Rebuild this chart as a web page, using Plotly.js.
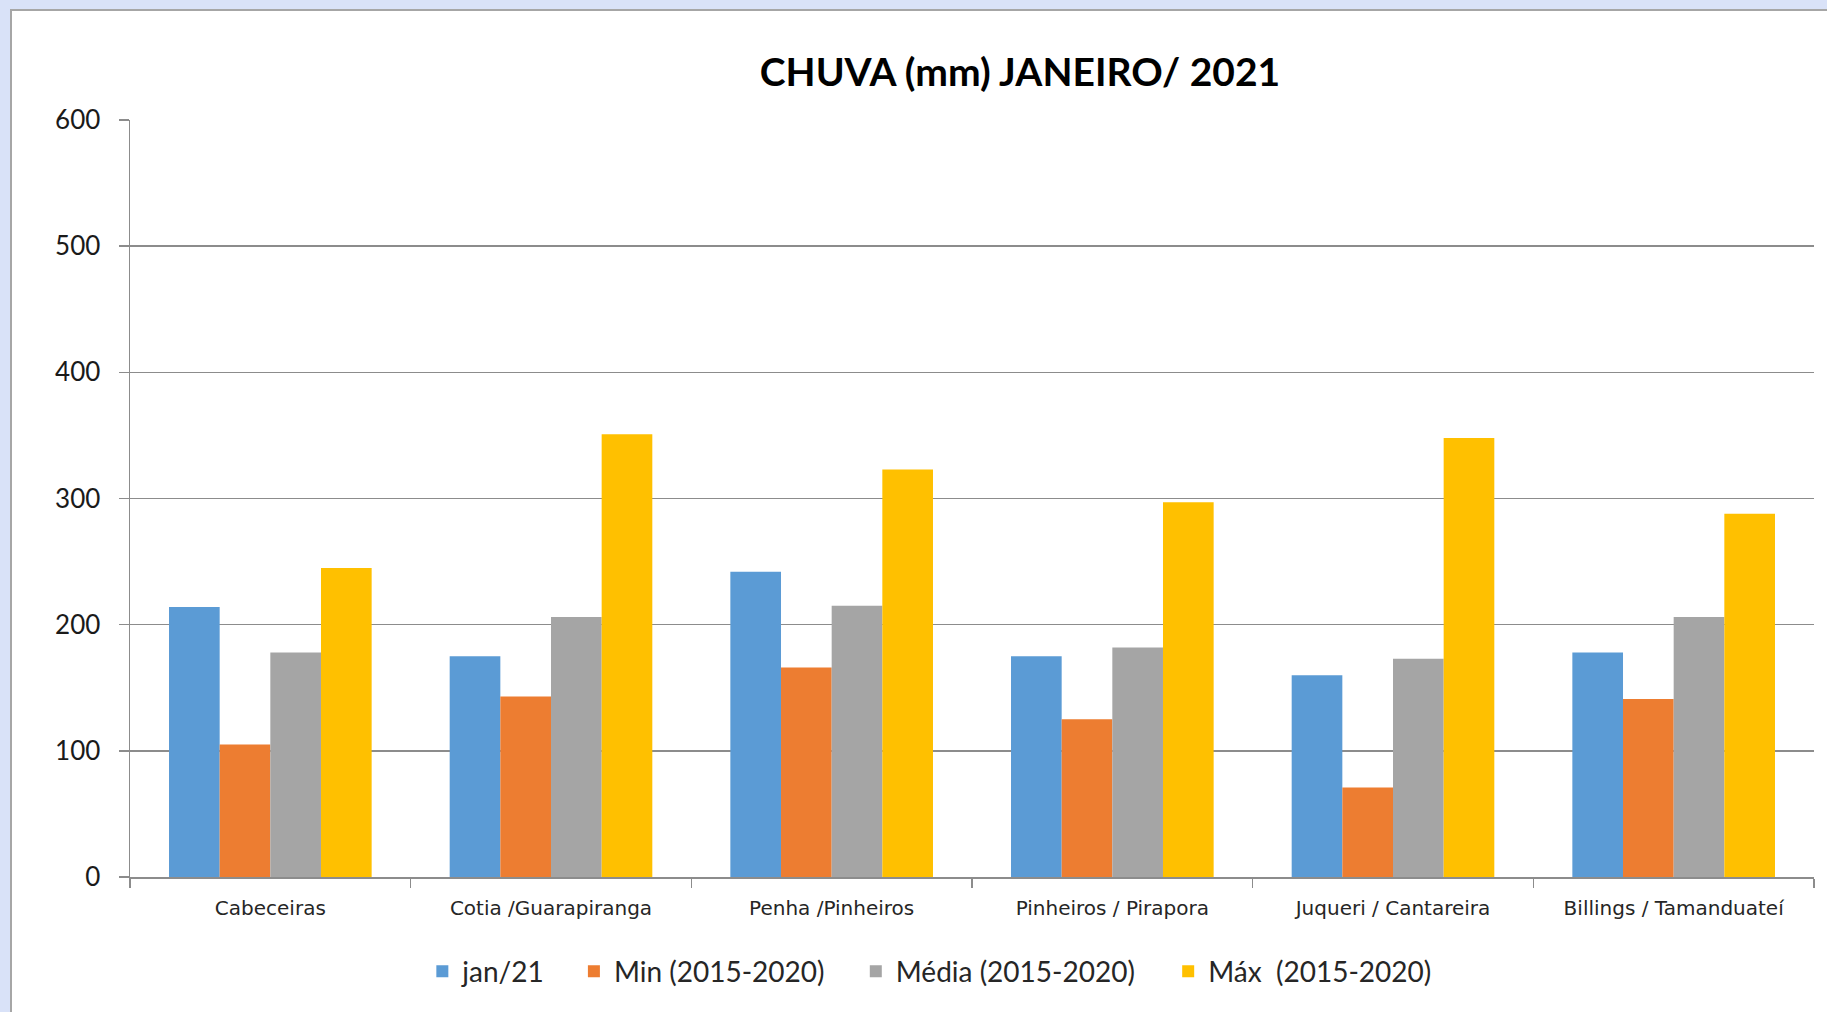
<!DOCTYPE html>
<html>
<head>
<meta charset="utf-8">
<script src="https://cdn.plot.ly/plotly-3.0.1.min.js"></script>
<style>
  html, body { margin: 0; padding: 0; width: 1827px; height: 1012px; overflow: hidden; background: #d9e2f8; }
  #panel { position: absolute; left: 10px; top: 9px; width: 1840px; height: 1040px; background: #ffffff; border: 2px solid #a6a6a6; box-sizing: border-box; }
  #chart { position: absolute; left: 0; top: 0; width: 1827px; height: 1012px; }
</style>
</head>
<body>
<div id="panel"></div>
<div id="chart"></div>
<script>
const categories = ["Cabeceiras", "Cotia /Guarapiranga", "Penha /Pinheiros", "Pinheiros / Pirapora", "Juqueri / Cantareira", "Billings / Tamanduateí"];
const seriesNames = ["jan/21", "Min (2015-2020)", "Média (2015-2020)", "Máx  (2015-2020)"];
const jan21 = [214, 175, 242, 175, 160, 178];
const min1520 = [105, 143, 166, 125, 71, 141];
const media1520 = [178, 206, 215, 182, 173, 206];
const max1520 = [245, 351, 323, 297, 348, 288];
const yTicks = [0, 100, 200, 300, 400, 500, 600];
const colors = ["#5b9bd5", "#ed7d31", "#a5a5a5", "#ffc000"];

const legendIds = ["legend", "legend2", "legend3", "legend4"];
const legendX = [0.1736, 0.2636, 0.4310, 0.6165];

const allValues = [jan21, min1520, media1520, max1520];
const traces = allValues.map((vals, i) => ({
  type: "bar",
  name: seriesNames[i],
  x: categories,
  y: vals,
  legend: legendIds[i],
  marker: { color: colors[i], line: { width: 0 } },
  hoverinfo: "x+y+name"
}));

const layout = {
  width: 1827,
  height: 1012,
  paper_bgcolor: "rgba(0,0,0,0)",
  plot_bgcolor: "rgba(0,0,0,0)",
  margin: { l: 130, r: 13, t: 120, b: 135 },
  barmode: "group",
  bargap: 0.278,
  bargroupgap: 0,
  title: {
    text: "<b>CHUVA (mm) JANEIRO/ 2021</b>",
    font: { family: "Lato, 'Open Sans', sans-serif", size: 39, color: "#000000" },
    x: 0.5285, xref: "paper", xanchor: "center",
    y: 0.929, yref: "container", yanchor: "middle"
  },
  font: { family: "Lato, 'Open Sans', sans-serif", color: "#262626" },
  xaxis: {
    type: "category",
    showline: true, linecolor: "#8c8c8c", linewidth: 1.5,
    ticks: "outside", tickson: "boundaries", ticklen: 9, tickcolor: "#8c8c8c", tickwidth: 1.5,
    showgrid: false,
    tickfont: { family: "'DejaVu Sans', sans-serif", size: 20, color: "#262626" },
    ticklabelstandoff: 12,
    fixedrange: true
  },
  yaxis: {
    range: [0, 600],
    tickvals: yTicks,
    ticktext: yTicks.map(String),
    showline: true, linecolor: "#8c8c8c", linewidth: 1.5,
    ticks: "outside", ticklen: 10, tickcolor: "#8c8c8c", tickwidth: 1.5,
    showgrid: true, gridcolor: "#8c8c8c", gridwidth: 1.5,
    zeroline: false,
    tickfont: { size: 26, color: "#1a1a1a" },
    ticklabelstandoff: 13,
    fixedrange: true
  },
  showlegend: true
};

legendIds.forEach((id, i) => {
  layout[id] = {
    orientation: "h",
    x: legendX[i], xanchor: "left",
    y: -0.125, yanchor: "middle",
    font: { size: 28, color: "#262626" },
    itemwidth: 30,
    bgcolor: "rgba(0,0,0,0)"
  };
});

Plotly.newPlot("chart", traces, layout, { displayModeBar: false, staticPlot: true });
</script>
</body>
</html>
